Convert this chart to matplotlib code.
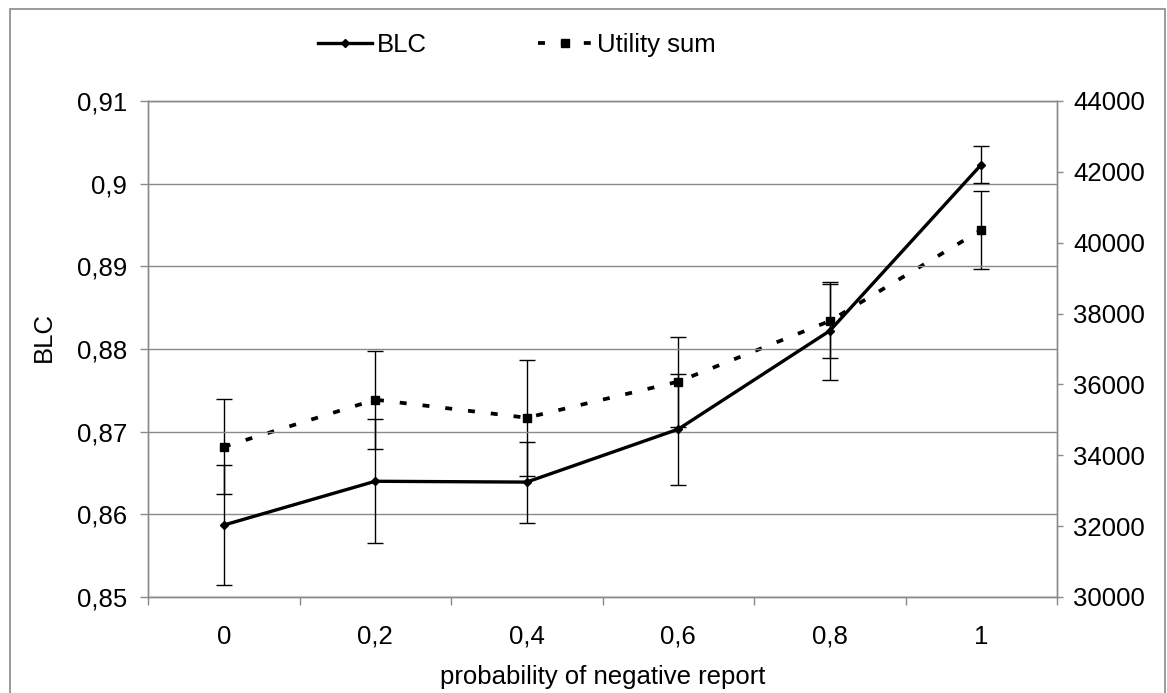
import matplotlib
matplotlib.use("Agg")
import matplotlib.pyplot as plt
from matplotlib.ticker import FuncFormatter, FixedLocator
from matplotlib.patches import Rectangle
from matplotlib.lines import Line2D

# Data
categories = ["0", "0,2", "0,4", "0,6", "0,8", "1"]
blc = [0.8587, 0.8640, 0.8639, 0.8703, 0.8822, 0.9023]
blc_err = [0.0073, 0.0075, 0.0049, 0.0067, 0.0059, 0.0022]
utility = [34240, 35570, 35060, 36080, 37790, 40360]
utility_err = [1340, 1380, 1640, 1270, 1040, 1100]

plt.rcParams["font.family"] = ["Liberation Sans", "DejaVu Sans"]
FS = 18.5
GREY = "#8a8a8a"

W, H = 1167, 693
fig = plt.figure(figsize=(W / 100, H / 100), dpi=100)
fig.patch.set_facecolor("white")

# chart border
fig.patches.append(Rectangle((10 / W, -0.02), (1165 - 10) / W, 1.02 - 9 / H,
                             transform=fig.transFigure, fill=False,
                             edgecolor=GREY, linewidth=1.2))

left, right, top, bottom = 148 / W, 1057 / W, 1 - 101 / H, 1 - 597 / H
ax = fig.add_axes([left, bottom, right - left, top - bottom])
ax2 = ax.twinx()

x = list(range(len(categories)))

lw = 2.4
ulw = 2.7
util_style = dict(color="black", linestyle=(0, (5 / ulw, 11.5 / ulw)), linewidth=ulw,
                  marker="s", markersize=6, dash_capstyle="butt")
blc_style = dict(color="black", linestyle="-", linewidth=lw, marker="D", markersize=4.5)

# Utility sum (right axis)
ax2.errorbar(x, utility, yerr=utility_err, ecolor="black",
             elinewidth=1.0, capsize=6, capthick=1.0, zorder=3, **util_style)

# BLC (left axis)
ax.errorbar(x, blc, yerr=blc_err, ecolor="black",
            elinewidth=1.0, capsize=6, capthick=1.0, zorder=3, **blc_style)

ax.set_xlim(-0.5, len(categories) - 0.5)
ax.set_ylim(0.85, 0.91)
ax2.set_ylim(30000, 44000)

ax.set_yticks([0.85, 0.86, 0.87, 0.88, 0.89, 0.90, 0.91])
ax.yaxis.set_major_formatter(FuncFormatter(lambda v, p: ("%g" % round(v, 2)).replace(".", ",")))
ax2.set_yticks(list(range(30000, 44001, 2000)))

ax.set_xticks(x)
ax.set_xticklabels(categories)
ax.xaxis.set_minor_locator(FixedLocator([i - 0.5 for i in range(len(categories) + 1)]))
ax.tick_params(axis="x", which="major", length=0, pad=20, labelsize=FS)
ax.tick_params(axis="x", which="minor", length=6, width=1, color=GREY, direction="out")
ax.tick_params(axis="y", length=6, width=1, color=GREY, pad=9, labelsize=FS)
ax2.tick_params(axis="y", length=4.5, width=1, color=GREY, pad=7, labelsize=FS)

ax.grid(axis="y", color=GREY, linewidth=1.0)
ax.set_axisbelow(True)
ax.set_zorder(ax2.get_zorder() + 1)
ax.patch.set_visible(False)

for a in (ax, ax2):
    for s in a.spines.values():
        s.set_color(GREY)
        s.set_linewidth(1.0)

ax.set_xlabel("probability of negative report", fontsize=FS, va="center")
ax.xaxis.set_label_coords(0.5, (597 - 677) / 496, transform=ax.transAxes)
ax.set_ylabel("BLC", fontsize=FS)
ax.yaxis.set_label_coords((56 - 148) / 909, (597 - 337) / 496)

handles = [Line2D([], [], **blc_style), Line2D([], [], **util_style)]
fig.legend(handles, ["BLC", "Utility sum"], loc="center left",
           bbox_to_anchor=(318 / W, 1 - 45 / H),
           ncol=2, frameon=False, fontsize=FS, borderpad=0, borderaxespad=0,
           handlelength=2.1, handletextpad=0.2, columnspacing=4.3)

fig.savefig("out.png", dpi=100, facecolor="white")
